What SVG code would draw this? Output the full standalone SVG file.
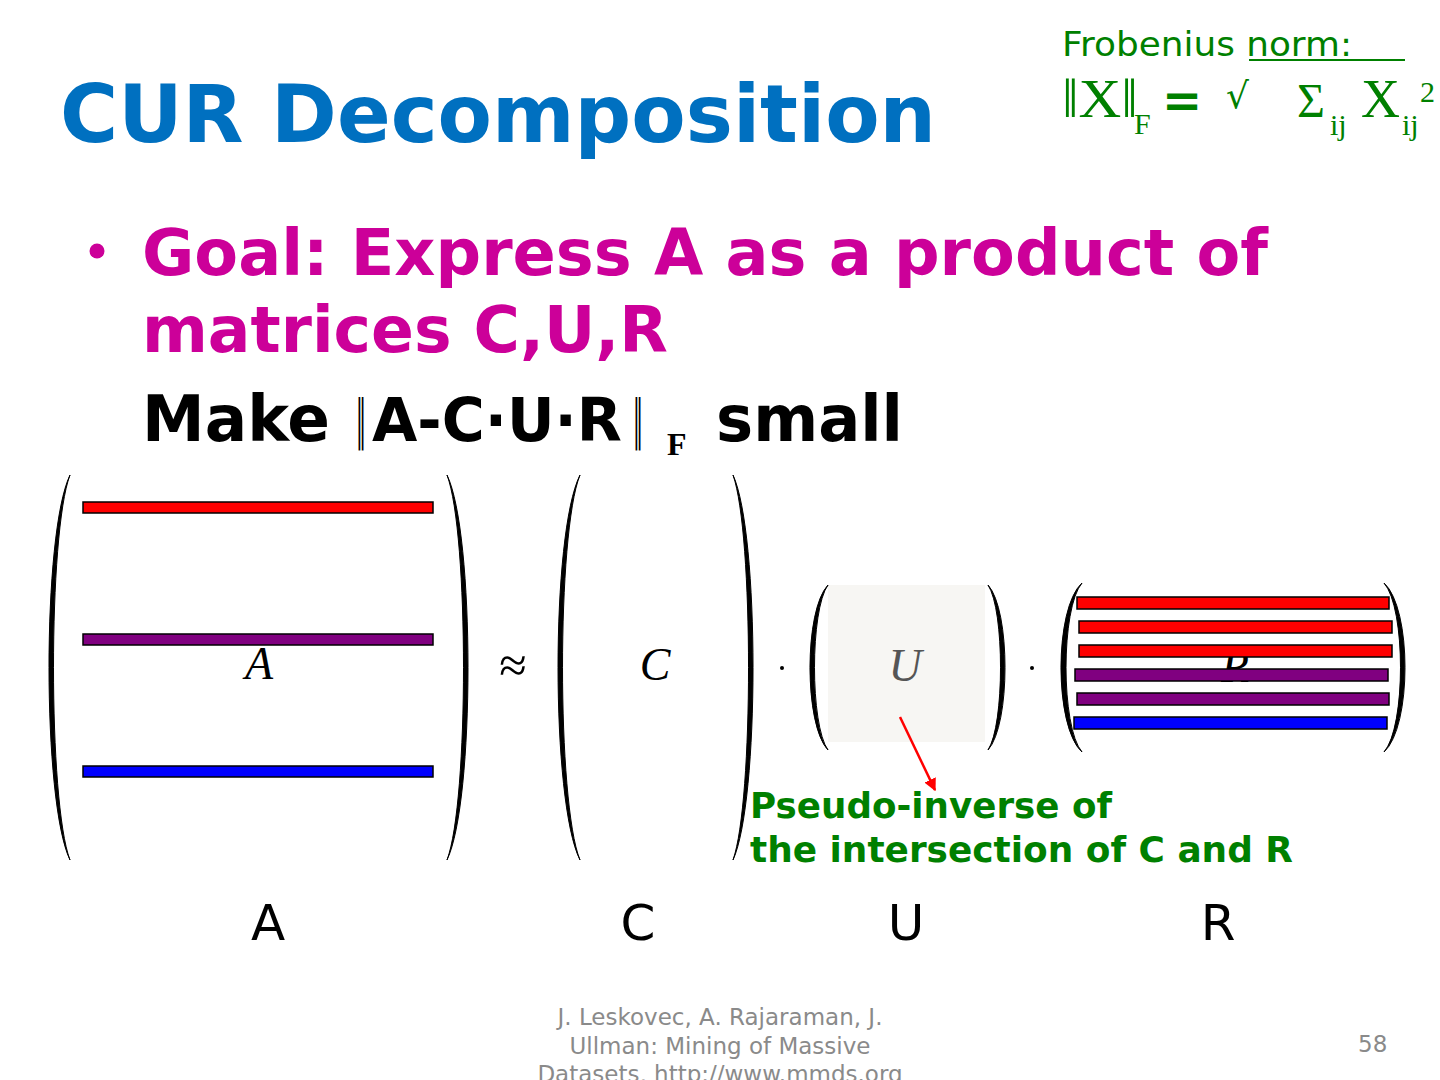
<svg xmlns="http://www.w3.org/2000/svg" width="1440" height="1080" viewBox="0 0 1440 1080">
<defs>
<style>
.sans{font-family:"DejaVu Sans","Liberation Sans",sans-serif}
.serif{font-family:"Liberation Serif","DejaVu Serif",serif}
.bold{font-weight:bold}
.green{fill:#008000}
.paren{fill:#000;stroke:#000;stroke-width:1}
.bar{stroke:#000;stroke-width:1.5}
.math{font-family:"Liberation Serif","DejaVu Serif",serif;font-style:italic;font-size:46px;text-anchor:middle}
.lbl{font-family:"DejaVu Sans","Liberation Sans",sans-serif;font-size:50px;text-anchor:middle;fill:#000}
.foot{font-family:"DejaVu Sans","Liberation Sans",sans-serif;font-size:23px;fill:#8a8a8a}
</style>
<marker id="arr" viewBox="0 0 10 10" refX="9" refY="5" markerWidth="5" markerHeight="5" orient="auto" markerUnits="strokeWidth">
<path d="M0,0 L10,5 L0,10 z" fill="#ff0000"/>
</marker>
</defs>
<rect width="1440" height="1080" fill="#ffffff"/>

<g id="title">
<text class="sans bold" x="60" y="142" font-size="80" fill="#0070C0" textLength="876" lengthAdjust="spacingAndGlyphs">CUR Decomposition</text>
</g>

<g id="frobenius">
<text class="sans green" x="1062" y="56" font-size="34" textLength="290" lengthAdjust="spacingAndGlyphs">Frobenius norm:</text>
<line x1="1249" y1="60" x2="1405" y2="60" stroke="#008000" stroke-width="2"/>
<text class="serif green" x="1062" y="117" font-size="54" textLength="76" lengthAdjust="spacingAndGlyphs">‖X‖</text>
<text class="serif green" x="1134" y="134" font-size="30">F</text>
<text class="sans bold green" x="1162" y="117" font-size="48">=</text>
<text class="sans green" x="1226" y="108" font-size="36">√</text>
<text class="serif green" x="1297" y="117" font-size="48">Σ</text>
<text class="serif green" x="1330" y="135" font-size="30">ij</text>
<text class="serif green" x="1361" y="117" font-size="54">X</text>
<text class="serif green" x="1402" y="135" font-size="30">ij</text>
<text class="serif green" x="1420" y="102" font-size="30">2</text>
</g>

<g id="goal">
<circle cx="97" cy="251" r="7.5" fill="#CC0099"/>
<text class="sans bold" x="142" y="275" font-size="64" fill="#CC0099" textLength="1126" lengthAdjust="spacingAndGlyphs">Goal: Express A as a product of</text>
<text class="sans bold" x="142" y="352" font-size="64" fill="#CC0099" textLength="526" lengthAdjust="spacingAndGlyphs">matrices C,U,R</text>
</g>

<g id="make">
<text class="sans bold" x="142" y="441" font-size="64" fill="#000" textLength="188" lengthAdjust="spacingAndGlyphs">Make</text>
<text class="sans" transform="translate(356,438) scale(0.4,1.05)" font-size="50" fill="#000">‖</text>
<text class="sans bold" x="372" y="441" font-size="60" fill="#000" textLength="250" lengthAdjust="spacingAndGlyphs">A-C·U·R</text>
<text class="sans" transform="translate(633,438) scale(0.4,1.05)" font-size="50" fill="#000">‖</text>
<text class="serif bold" x="667" y="455" font-size="32" fill="#000">F</text>
<text class="sans bold" x="716" y="441" font-size="64" fill="#000" textLength="187" lengthAdjust="spacingAndGlyphs">small</text>
</g>

<g id="matrix-A">
<path class="paren" d="M70,475 C42,533 42,802 70,860 C48,802 48,533 70,475 z"/>
<path class="paren" d="M447,475 C475,533 475,802 447,860 C469,802 469,533 447,475 z"/>
<rect class="bar" x="83" y="502" width="350" height="11" fill="#ff0000"/>
<rect class="bar" x="83" y="634" width="350" height="11" fill="#800080"/>
<text class="math" x="259" y="679" fill="#000">A</text>
<rect class="bar" x="83" y="766" width="350" height="11" fill="#0000ff"/>
</g>

<g id="approx">
<text class="serif" x="513" y="682" font-size="50" text-anchor="middle" fill="#000">≈</text>
</g>

<g id="matrix-C">
<path class="paren" d="M580,475 C550.7,533 550.7,802 580,860 C556.7,802 556.7,533 580,475 z"/>
<path class="paren" d="M733,475 C759.7,533 759.7,802 733,860 C753.7,802 753.7,533 733,475 z"/>
<text class="math" x="655" y="680" fill="#000">C</text>
</g>

<g id="dot1"><circle cx="782" cy="668" r="2" fill="#000"/></g>

<g id="matrix-U">
<rect x="828" y="585" width="157" height="157" fill="#F7F6F3"/>
<path class="paren" d="M828,585 C804,610 804,725 828,750 C810,725 810,610 828,585 z"/>
<path class="paren" d="M988,585 C1010.7,610 1010.7,725 988,750 C1004.7,725 1004.7,610 988,585 z"/>
<text class="math" x="905" y="681" fill="#555">U</text>
</g>

<g id="dot2"><circle cx="1032" cy="668" r="2" fill="#000"/></g>

<g id="matrix-R">
<text class="math" x="1235" y="682" fill="#000">R</text>
<path class="paren" d="M1082,583 C1054,608 1054,727 1082,752 C1060.7,727 1060.7,608 1082,583 z"/>
<path class="paren" d="M1384,583 C1412,608 1412,727 1384,752 C1406,727 1406,608 1384,583 z"/>
<rect class="bar" x="1077" y="597" width="312" height="12" fill="#ff0000"/>
<rect class="bar" x="1079" y="621" width="313" height="12" fill="#ff0000"/>
<rect class="bar" x="1079" y="645" width="313" height="12" fill="#ff0000"/>
<rect class="bar" x="1075" y="669" width="313" height="12" fill="#800080"/>
<rect class="bar" x="1077" y="693" width="312" height="12" fill="#800080"/>
<rect class="bar" x="1074" y="717" width="313" height="12" fill="#0000ff"/>
</g>

<g id="connectors">
<line x1="900" y1="717" x2="935" y2="790" stroke="#ff0000" stroke-width="2.5" marker-end="url(#arr)"/>
</g>

<g id="pseudo-inverse-label">
<text class="sans bold green" x="750" y="818" font-size="36" textLength="362" lengthAdjust="spacingAndGlyphs">Pseudo-inverse of</text>
<text class="sans bold green" x="750" y="862" font-size="36" textLength="543" lengthAdjust="spacingAndGlyphs">the intersection of C and R</text>
</g>

<g id="labels">
<text class="lbl" x="268" y="940">A</text>
<text class="lbl" x="638" y="940">C</text>
<text class="lbl" x="906" y="940">U</text>
<text class="lbl" x="1218" y="940">R</text>
</g>

<g id="footer">
<text class="foot" x="720" y="1025" text-anchor="middle">J. Leskovec, A. Rajaraman, J.</text>
<text class="foot" x="720" y="1054" text-anchor="middle">Ullman: Mining of Massive</text>
<text class="foot" x="720" y="1082" text-anchor="middle">Datasets, http://www.mmds.org</text>
<text class="foot" x="1358" y="1052">58</text>
</g>
</svg>
